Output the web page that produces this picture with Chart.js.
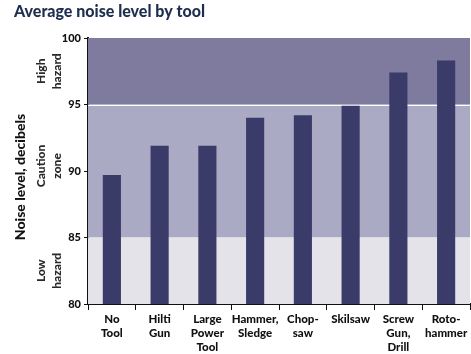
<!DOCTYPE html>
<html><head><meta charset="utf-8">
<script src="https://cdn.jsdelivr.net/npm/chart.js@4/dist/chart.umd.min.js"></script>
<style>html,body{margin:0;padding:0;background:#fff}#wrap{width:471px;height:354px}</style>
</head><body><div id="wrap"><canvas id="c"></canvas></div>
<script>
const categories = [["No","Tool"],["Hilti","Gun"],["Large","Power","Tool"],["Hammer,","Sledge"],["Chop-","saw"],["Skilsaw"],["Screw","Gun,","Drill"],["Roto-","hammer"]];
const noiseLevels = [89.7, 91.9, 91.9, 94.0, 94.2, 94.9, 97.4, 98.3];
const zones = [
  {from:95, to:100, label:["High","hazard"], color:"#7e7b9f", shift:0},
  {from:85, to:95, label:["Caution","zone"], color:"#abaac5", shift:-5},
  {from:80, to:85, label:["Low","hazard"], color:"#e4e3ea", shift:0}
];
const yTicks = [80, 85, 90, 95, 100];
const FONT = "Lato";
const W = 900;

const bandPlugin = {
  id:'bands',
  beforeDatasetsDraw(chart){
    const {ctx, chartArea:a, scales:{y}} = chart;
    ctx.save();
    zones.forEach(z=>{
      const t = y.getPixelForValue(z.to), b = y.getPixelForValue(z.from);
      ctx.fillStyle = z.color;
      ctx.fillRect(a.left, t, a.right-a.left, b-t);
    });
    ctx.strokeStyle = '#ffffff'; ctx.lineWidth = 1;
    const p = Math.round(y.getPixelForValue(95))+0.5;
    ctx.beginPath(); ctx.moveTo(a.left,p); ctx.lineTo(a.right,p); ctx.stroke();
    ctx.restore();
  },
  afterDraw(chart){
    const {ctx, chartArea:a, scales:{y}} = chart;
    ctx.save();
    ctx.fillStyle = '#1e2e4e';
    ctx.font = `${W} 16px ${FONT}`;
    ctx.textBaseline = 'middle'; ctx.textAlign='left';
    ctx.fillText('Average noise level by tool', 14, 12);
    ctx.fillStyle = '#2a2a2a';
    ctx.font = `${W} 12px ${FONT}`;
    ctx.textAlign='center';
    zones.forEach(z=>{
      const mid = (y.getPixelForValue(z.to)+y.getPixelForValue(z.from))/2 + z.shift;
      ctx.save();
      ctx.translate(49.5, mid);
      ctx.rotate(-Math.PI/2);
      ctx.fillText(z.label[0], 0, -8);
      ctx.fillText(z.label[1], 0, 8);
      ctx.restore();
    });
    ctx.fillStyle = '#111';
    ctx.font = `${W} 14px ${FONT}`;
    ctx.save();
    ctx.translate(20, (a.top+a.bottom)/2 + 6);
    ctx.rotate(-Math.PI/2);
    ctx.fillText('Noise level, decibels', 0, 0);
    ctx.restore();
    ctx.restore();
  }
};

new Chart(document.getElementById('c'), {
  type:'bar',
  data:{labels:categories, datasets:[{data:noiseLevels, backgroundColor:'#3a3b69', barPercentage:0.38, categoryPercentage:1}]},
  options:{
    responsive:true, maintainAspectRatio:false, animation:false,
    layout:{padding:{top:38, right:1, left:0, bottom:0}},
    plugins:{legend:{display:false}, title:{display:false}, tooltip:{enabled:false}},
    scales:{
      x:{
        afterFit(s){ s.height = 50; },
        grid:{drawOnChartArea:false, color:'#111', tickLength:6, offset:true},
        border:{color:'#111', width:2},
        ticks:{color:'#111', font:{family:FONT, weight:W, size:11.5, lineHeight:1.22}, padding:2, maxRotation:0, autoSkip:false}
      },
      y:{
        min:80, max:100,
        afterFit(s){ s.width = 88; },
        afterBuildTicks(s){ s.ticks = yTicks.map(v=>({value:v})); },
        grid:{drawOnChartArea:false, color:'#111', tickLength:4},
        border:{color:'#111', width:2},
        ticks:{color:'#111', font:{family:FONT, weight:W, size:11}, padding:3}
      }
    }
  },
  plugins:[bandPlugin]
});
</script></body></html>
